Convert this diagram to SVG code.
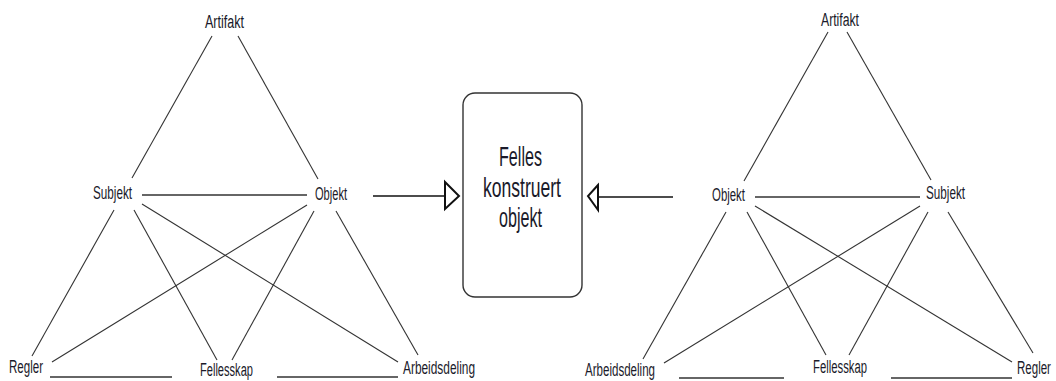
<svg xmlns="http://www.w3.org/2000/svg" width="1056" height="381" viewBox="0 0 1056 381">
<style>
text{font-family:"Liberation Sans",Arial,sans-serif;fill:#1a1a2a}
.lbl{font-size:18px}
.big{font-size:28px}
.ln{stroke:#333;stroke-width:1.1;fill:none}
.hz{stroke:#666;stroke-width:2.2;fill:none}
.ar{stroke:#111;stroke-width:1.4;fill:none}
.head{stroke:#111;stroke-width:2;fill:#fff;stroke-linejoin:miter}
</style>
<rect width="1056" height="381" fill="#fff"/>
<g id="connectors">
<line class="ln" x1="212" y1="36" x2="132" y2="178"/>
<line class="ln" x1="238" y1="36" x2="318" y2="179"/>
<line class="hz" x1="142" y1="195" x2="307" y2="195"/>
<line class="ln" x1="114" y1="210" x2="32" y2="356"/>
<line class="ln" x1="134" y1="210" x2="217" y2="360"/>
<line class="ln" x1="142" y1="204" x2="398" y2="362"/>
<line class="ln" x1="307" y1="205" x2="52" y2="362"/>
<line class="ln" x1="314" y1="211" x2="232" y2="360"/>
<line class="ln" x1="336" y1="211" x2="418" y2="355"/>
<line class="hz" x1="50" y1="377" x2="172" y2="377"/>
<line class="hz" x1="277" y1="377" x2="398" y2="377"/>
<line class="ln" x1="828" y1="32" x2="744" y2="181"/>
<line class="ln" x1="847" y1="32" x2="931" y2="180"/>
<line class="hz" x1="755" y1="197" x2="920" y2="197"/>
<line class="ln" x1="726" y1="212" x2="643" y2="359"/>
<line class="ln" x1="920" y1="206" x2="664" y2="363"/>
<line class="ln" x1="747" y1="212" x2="826" y2="355"/>
<line class="ln" x1="928" y1="212" x2="849" y2="355"/>
<line class="ln" x1="755" y1="206" x2="1012" y2="362"/>
<line class="ln" x1="948" y1="212" x2="1033" y2="353"/>
<line class="hz" x1="679" y1="378" x2="784" y2="378"/>
<line class="hz" x1="891" y1="378" x2="1012" y2="378"/>
<line class="ar" x1="373" y1="196" x2="445" y2="196"/>
<polygon class="head" points="445,182 459,196 445,209"/>
<line class="ar" x1="673" y1="197" x2="598" y2="197"/>
<polygon class="head" points="598,185 588,196 598,210"/>
</g>
<g id="left-artifakt"><text class="lbl" x="205" y="28" textLength="39" lengthAdjust="spacingAndGlyphs">Artifakt</text></g>
<g id="left-subjekt"><text class="lbl" x="93" y="199" textLength="39" lengthAdjust="spacingAndGlyphs">Subjekt</text></g>
<g id="left-objekt"><text class="lbl" x="315" y="200" textLength="32" lengthAdjust="spacingAndGlyphs">Objekt</text></g>
<g id="left-regler"><text class="lbl" x="9" y="373" textLength="34" lengthAdjust="spacingAndGlyphs">Regler</text></g>
<g id="left-fellesskap"><text class="lbl" x="200" y="376" textLength="53" lengthAdjust="spacingAndGlyphs">Fellesskap</text></g>
<g id="left-arbeidsdeling"><text class="lbl" x="403" y="374" textLength="72" lengthAdjust="spacingAndGlyphs">Arbeidsdeling</text></g>
<g id="box">
<rect x="463" y="93" width="119" height="204" rx="12" ry="12" fill="#fff" stroke="#333" stroke-width="1.4"/>
<text class="big" x="499" y="166" textLength="43" lengthAdjust="spacingAndGlyphs">Felles</text>
<text class="big" x="483" y="197" textLength="78" lengthAdjust="spacingAndGlyphs">konstruert</text>
<text class="big" x="499" y="227" textLength="43" lengthAdjust="spacingAndGlyphs">objekt</text>
</g>
<g id="right-artifakt"><text class="lbl" x="821" y="26" textLength="38" lengthAdjust="spacingAndGlyphs">Artifakt</text></g>
<g id="right-objekt"><text class="lbl" x="712" y="201" textLength="33" lengthAdjust="spacingAndGlyphs">Objekt</text></g>
<g id="right-subjekt"><text class="lbl" x="926" y="199" textLength="39" lengthAdjust="spacingAndGlyphs">Subjekt</text></g>
<g id="right-arbeidsdeling"><text class="lbl" x="585" y="376" textLength="70" lengthAdjust="spacingAndGlyphs">Arbeidsdeling</text></g>
<g id="right-fellesskap"><text class="lbl" x="813" y="373" textLength="54" lengthAdjust="spacingAndGlyphs">Fellesskap</text></g>
<g id="right-regler"><text class="lbl" transform="translate(1017,374) scale(0.64,1)" x="0" y="0">Regler</text></g>
</svg>
